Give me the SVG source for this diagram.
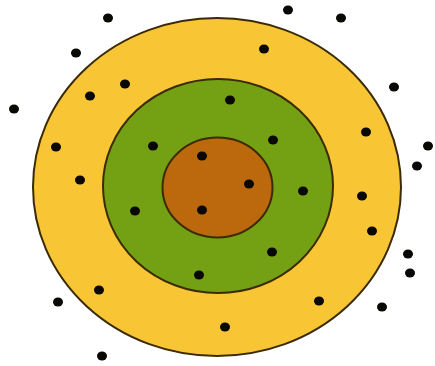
<svg xmlns="http://www.w3.org/2000/svg" width="435" height="366" viewBox="0 0 435 366">
<style>
.ring{stroke:#3a2a05;stroke-width:2}
.dot{fill:#0a0805}
</style>
<rect width="435" height="366" fill="#ffffff"/>
<g id="outer"><ellipse class="ring" cx="217" cy="187" rx="184" ry="169" fill="#F8C535"/></g>
<g id="middle"><ellipse class="ring" cx="218" cy="186" rx="115" ry="107" fill="#74A113"/></g>
<g id="inner"><ellipse class="ring" cx="217.5" cy="187.5" rx="55" ry="50" fill="#BC680C"/></g>
<g id="dots">
<ellipse class="dot" cx="108" cy="18" rx="5" ry="4.5"/>
<ellipse class="dot" cx="288" cy="10" rx="5" ry="4.5"/>
<ellipse class="dot" cx="341" cy="18" rx="5" ry="4.5"/>
<ellipse class="dot" cx="76" cy="53" rx="5" ry="4.5"/>
<ellipse class="dot" cx="264" cy="49" rx="5" ry="4.5"/>
<ellipse class="dot" cx="14" cy="109" rx="5" ry="4.5"/>
<ellipse class="dot" cx="90" cy="96" rx="5" ry="4.5"/>
<ellipse class="dot" cx="125" cy="84" rx="5" ry="4.5"/>
<ellipse class="dot" cx="394" cy="87" rx="5" ry="4.5"/>
<ellipse class="dot" cx="230" cy="100" rx="5" ry="4.5"/>
<ellipse class="dot" cx="366" cy="132" rx="5" ry="4.5"/>
<ellipse class="dot" cx="428" cy="146" rx="5" ry="4.5"/>
<ellipse class="dot" cx="56" cy="147" rx="5" ry="4.5"/>
<ellipse class="dot" cx="153" cy="146" rx="5" ry="4.5"/>
<ellipse class="dot" cx="273" cy="140" rx="5" ry="4.5"/>
<ellipse class="dot" cx="417" cy="166" rx="5" ry="4.5"/>
<ellipse class="dot" cx="202" cy="156" rx="5" ry="4.5"/>
<ellipse class="dot" cx="249" cy="184" rx="5" ry="4.5"/>
<ellipse class="dot" cx="80" cy="180" rx="5" ry="4.5"/>
<ellipse class="dot" cx="303" cy="191" rx="5" ry="4.5"/>
<ellipse class="dot" cx="362" cy="196" rx="5" ry="4.5"/>
<ellipse class="dot" cx="135" cy="211" rx="5" ry="4.5"/>
<ellipse class="dot" cx="202" cy="210" rx="5" ry="4.5"/>
<ellipse class="dot" cx="372" cy="231" rx="5" ry="4.5"/>
<ellipse class="dot" cx="272" cy="252" rx="5" ry="4.5"/>
<ellipse class="dot" cx="408" cy="254" rx="5" ry="4.5"/>
<ellipse class="dot" cx="410" cy="273" rx="5" ry="4.5"/>
<ellipse class="dot" cx="199" cy="275" rx="5" ry="4.5"/>
<ellipse class="dot" cx="99" cy="290" rx="5" ry="4.5"/>
<ellipse class="dot" cx="58" cy="302" rx="5" ry="4.5"/>
<ellipse class="dot" cx="319" cy="301" rx="5" ry="4.5"/>
<ellipse class="dot" cx="382" cy="307" rx="5" ry="4.5"/>
<ellipse class="dot" cx="225" cy="327" rx="5" ry="4.5"/>
<ellipse class="dot" cx="102" cy="356" rx="5" ry="4.5"/>
</g>
</svg>
